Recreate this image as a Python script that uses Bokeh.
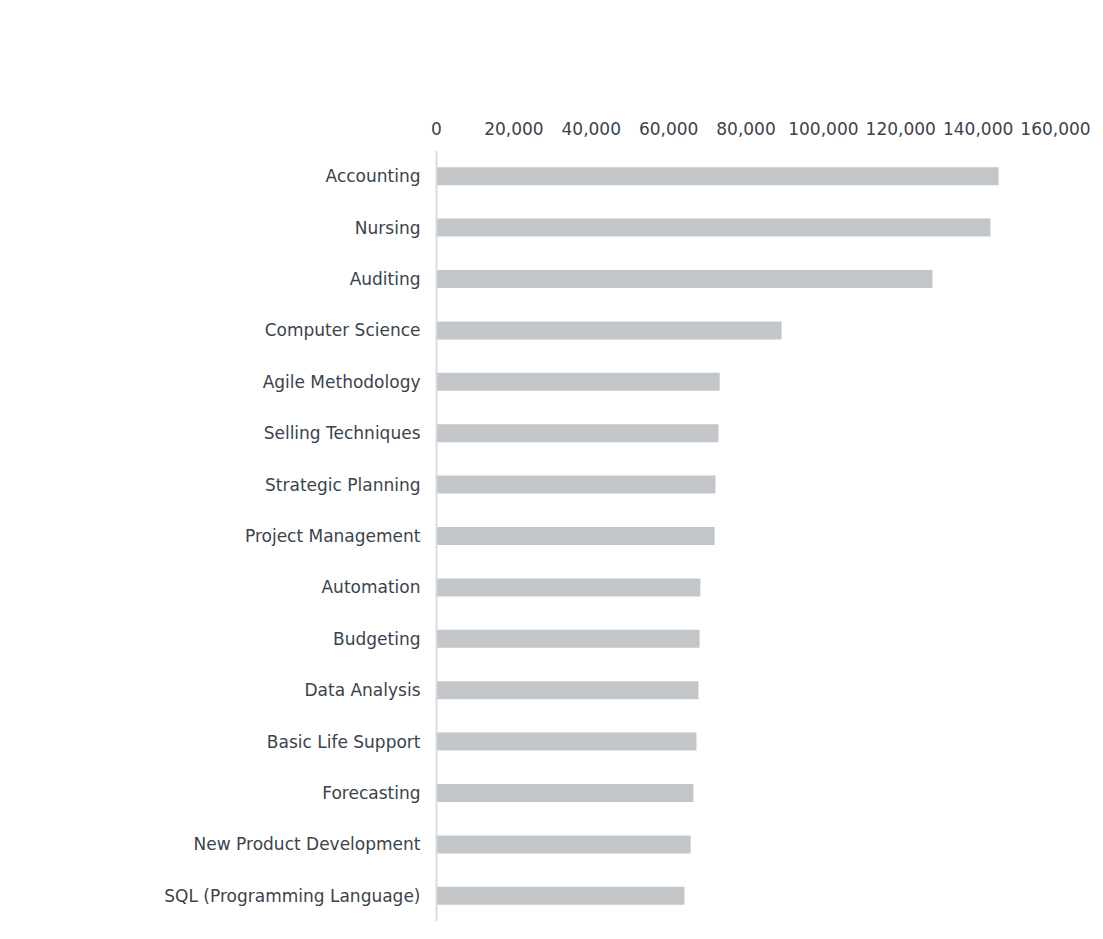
from bokeh.plotting import figure
from bokeh.models import FactorRange, Range1d, LinearAxis, NumeralTickFormatter, FixedTicker
from bokeh.embed import file_html
from bokeh.resources import INLINE

categories = ["Accounting", "Nursing", "Auditing", "Computer Science", "Agile Methodology",
              "Selling Techniques", "Strategic Planning", "Project Management", "Automation",
              "Budgeting", "Data Analysis", "Basic Life Support", "Forecasting",
              "New Product Development", "SQL (Programming Language)"]
values = [145300, 143200, 128200, 89200, 73200, 72900, 72100, 71900, 68200,
          68000, 67700, 67200, 66400, 65700, 64100]
tick_values = [0, 20000, 40000, 60000, 80000, 100000, 120000, 140000, 160000]

FONT = "DejaVu Sans"
TEXT = "#3a434d"

p = figure(y_range=FactorRange(factors=list(reversed(categories))),
           x_range=Range1d(0, 160000),
           frame_width=619, frame_height=771,
           min_border_left=436, min_border_top=150, min_border_right=45, min_border_bottom=10,
           output_backend="svg", toolbar_location=None, x_axis_location=None,
           outline_line_color=None)

p.hbar(y=categories, right=values, left=0, height=0.35, color="#c3c6c9", line_color=None)

xa = LinearAxis(ticker=FixedTicker(ticks=tick_values),
                formatter=NumeralTickFormatter(format="0,0"))
xa.axis_line_color = None
xa.major_tick_line_color = None
xa.minor_tick_line_color = None
xa.major_label_standoff = 10
xa.major_label_text_font = FONT
xa.major_label_text_font_size = "17px"
xa.major_label_text_color = TEXT
p.add_layout(xa, "above")

ya = p.yaxis[0]
ya.axis_line_color = "#d8dce0"
ya.axis_line_width = 2
ya.major_tick_line_color = None
ya.minor_tick_line_color = None
ya.major_tick_out = 0
ya.major_label_standoff = 16
ya.major_label_text_font = FONT
ya.major_label_text_font_size = "17px"
ya.major_label_text_color = TEXT

p.xgrid.grid_line_color = None
p.ygrid.grid_line_color = None

open("out.html", "w").write(file_html(p, INLINE))
